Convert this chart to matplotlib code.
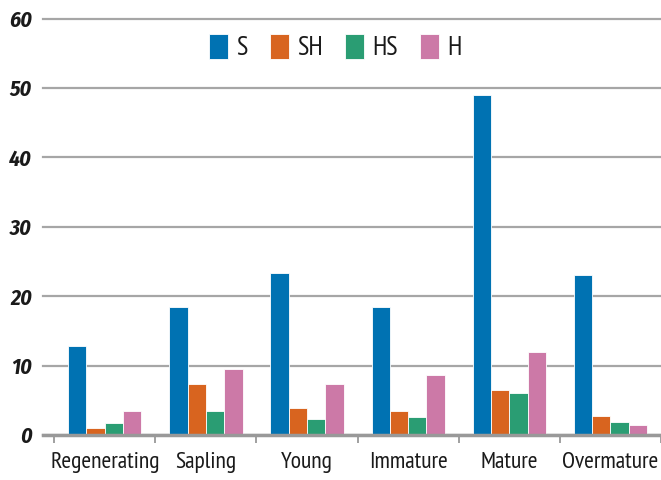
import matplotlib
matplotlib.use("Agg")
import matplotlib.pyplot as plt
import numpy as np
from matplotlib import font_manager

categories = ["Regenerating", "Sapling", "Young", "Immature", "Mature", "Overmature"]
series_names = ["S", "SH", "HS", "H"]
S = [12.8, 18.4, 23.4, 18.4, 49.0, 23.1]
SH = [1.0, 7.35, 3.9, 3.5, 6.5, 2.7]
HS = [1.8, 3.5, 2.25, 2.65, 6.1, 1.85]
H = [3.5, 9.5, 7.35, 8.65, 12.0, 1.4]
colors = ["#0072B2", "#D8641F", "#2A9D73", "#CC79A7"]
yticks = [0, 10, 20, 30, 40, 50, 60]

ttf = font_manager.fontManager.ttflist
names = {f.name for f in ttf}
cands = ["Myriad Pro", "PT Sans Narrow", "Fira Sans Condensed", "Roboto Condensed",
         "Open Sans Condensed", "Liberation Sans Narrow", "Archivo Narrow",
         "Source Sans 3", "Source Sans Pro", "Lato"]
fam = next((c for c in cands if c in names), "Liberation Sans")
ital_cands = ["Myriad Pro", "Fira Sans Condensed", "Roboto Condensed", "Archivo Narrow",
              "Source Sans 3", "Source Sans Pro", "Lato", "Liberation Sans"]
def has_bi(n):
    return any(f.name == n and f.style == "italic" and int(f.weight) >= 600 for f in ttf)
yfam = next((c for c in ital_cands if c in names and has_bi(c)), "Liberation Sans")
plt.rcParams["font.family"] = [fam, "DejaVu Sans"]

fig = plt.figure(figsize=(6.61, 4.8), dpi=100)
renderer = fig.canvas.get_renderer()

def fit_size(text, target_px, **kw):
    t = fig.text(0, 0, text, fontsize=10, **kw)
    w = t.get_window_extent(renderer).width
    t.remove()
    return 10 * target_px / w

xfs = fit_size("Regenerating", 110, family=[fam, "DejaVu Sans"])
yfs = fit_size("60", 23, family=[yfam, "DejaVu Sans"], fontweight="bold", fontstyle="italic")
lfs = xfs * 1.12

ax = fig.add_axes([43/661, 1-435/480, 1-43/661, (435-18.5)/480])

data = [S, SH, HS, H]
x = np.arange(len(categories))
w = 0.181
for i, (vals, c, n) in enumerate(zip(data, colors, series_names)):
    ax.bar(x + (i - 1.5) * w, vals, width=w, color=c, label=n, linewidth=0.6,
           edgecolor="white", zorder=3)

ax.set_ylim(0, 60)
ax.set_xlim(-0.611, 5.483)
ax.set_yticks(yticks)
ax.set_yticklabels([str(v) for v in yticks], fontsize=yfs, fontweight="bold",
                   fontstyle="italic", color="#1a1a1a", family=[yfam, "DejaVu Sans"])
ax.tick_params(axis="y", length=0, pad=8)
ax.grid(axis="y", color="#a6a6a6", linewidth=1.6, zorder=0)
for gl in ax.get_ygridlines():
    gl.set_clip_on(False)

ax.set_xticks(x)
ax.set_xticklabels(categories, fontsize=xfs, color="#1a1a1a")
ax.tick_params(axis="x", which="major", length=0, pad=12)
ax.set_xticks(np.arange(-0.5, len(categories) + 0.5, 1), minor=True)
ax.tick_params(axis="x", which="minor", length=6, width=1.3, color="#999999")

for s in ["top", "right", "left"]:
    ax.spines[s].set_visible(False)
ax.spines["bottom"].set_color("#999999")
ax.spines["bottom"].set_linewidth(2.5)
ax.spines["bottom"].set_zorder(4)

leg = ax.legend(ncol=4, frameon=False, loc="center", bbox_to_anchor=(0.4725, 0.9316),
                fontsize=lfs, handlelength=0.72, handleheight=1.1, handletextpad=0.3,
                columnspacing=0.85, borderpad=0)
for t in leg.get_texts():
    t.set_color("#1a1a1a")

fig.savefig("out.png", dpi=100)
